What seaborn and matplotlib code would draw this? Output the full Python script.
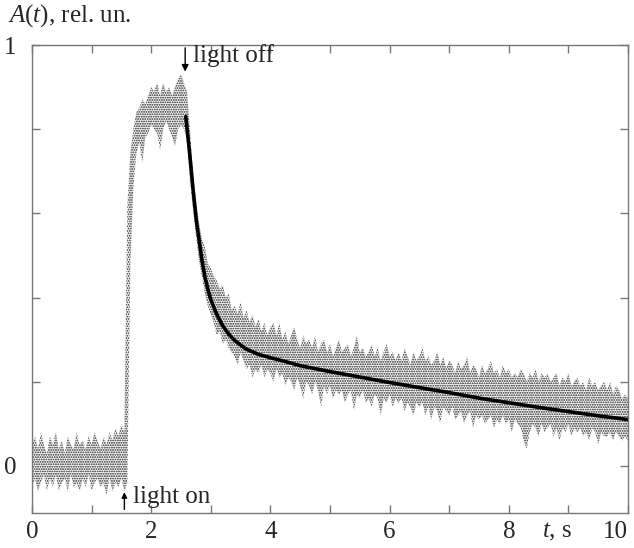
import numpy as np
import pandas as pd
import seaborn as sns
import matplotlib.pyplot as plt

BASE_HI = [0.05, 0.07, 0.04, 0.08, 0.05, 0.03, 0.07, 0.05, 0.08, 0.04,
           0.06, 0.03, 0.07, 0.05, 0.04, 0.08, 0.05, 0.06, 0.04, 0.07,
           0.05, 0.08, 0.06, 0.04, 0.07, 0.05, 0.08, 0.06, 0.09, 0.07,
           0.10, 0.08]
BASE_LO = [-0.05, -0.03, -0.06, -0.04, -0.02, -0.06, -0.03, -0.05, -0.02, -0.06,
           -0.04, -0.03, -0.06, -0.02, -0.05, -0.04, -0.06, -0.03, -0.05, -0.02,
           -0.06, -0.04, -0.03, -0.05, -0.04, -0.07, -0.03, -0.06, -0.04, -0.05,
           -0.03, -0.06]
PLATEAU_HI = [0.62, 0.74, 0.80, 0.84, 0.85, 0.87, 0.86, 0.88, 0.90, 0.89,
              0.91, 0.88, 0.91, 0.89, 0.90, 0.88, 0.90, 0.92, 0.93, 0.91, 0.89]
PLATEAU_LO = [-0.04, 0.48, 0.66, 0.74, 0.77, 0.72, 0.78, 0.79, 0.81, 0.80,
              0.79, 0.75, 0.80, 0.82, 0.80, 0.78, 0.76, 0.80, 0.81, 0.80, 0.78]
DECAY_HI = [0.80, 0.70, 0.63, 0.58, 0.54, 0.52, 0.48, 0.47, 0.45, 0.44,
            0.42, 0.43, 0.40, 0.41, 0.37, 0.38, 0.36, 0.39, 0.35, 0.37,
            0.34, 0.36, 0.33, 0.35, 0.32, 0.34, 0.31, 0.33, 0.34, 0.31,
            0.34, 0.30, 0.32, 0.29, 0.31, 0.33, 0.30, 0.28, 0.31, 0.29,
            0.30, 0.28, 0.31, 0.27, 0.29, 0.30, 0.27, 0.29, 0.26, 0.28,
            0.30, 0.27, 0.28, 0.29, 0.26, 0.28, 0.31, 0.27, 0.28, 0.26,
            0.27, 0.29, 0.26, 0.28, 0.25, 0.27, 0.29, 0.26, 0.27, 0.25,
            0.27, 0.25, 0.28, 0.26, 0.24, 0.27, 0.25, 0.26, 0.28, 0.25,
            0.26, 0.24, 0.25, 0.27, 0.24, 0.26, 0.23, 0.25, 0.24, 0.22,
            0.25, 0.23, 0.24, 0.26, 0.22, 0.24, 0.23, 0.21, 0.24, 0.22,
            0.23, 0.25, 0.22, 0.23, 0.21, 0.24, 0.22, 0.23, 0.21, 0.22,
            0.21, 0.23, 0.22, 0.20, 0.22, 0.21, 0.23, 0.20, 0.22, 0.21,
            0.22, 0.20, 0.21, 0.22, 0.19, 0.21, 0.20, 0.22, 0.19, 0.20,
            0.21, 0.19, 0.20, 0.18, 0.21, 0.19, 0.20, 0.18, 0.19, 0.20,
            0.18, 0.20, 0.17, 0.19, 0.18, 0.16, 0.17, 0.16]
DECAY_LO = [0.68, 0.61, 0.55, 0.49, 0.45, 0.41, 0.38, 0.36, 0.34, 0.31,
            0.32, 0.29, 0.30, 0.28, 0.27, 0.26, 0.24, 0.27, 0.25, 0.23,
            0.24, 0.21, 0.23, 0.22, 0.24, 0.21, 0.23, 0.22, 0.20, 0.23,
            0.21, 0.22, 0.19, 0.21, 0.20, 0.18, 0.21, 0.19, 0.16, 0.20,
            0.19, 0.17, 0.20, 0.18, 0.14, 0.19, 0.17, 0.19, 0.16, 0.18,
            0.17, 0.18, 0.15, 0.17, 0.18, 0.13, 0.17, 0.16, 0.18, 0.15,
            0.16, 0.14, 0.17, 0.16, 0.12, 0.16, 0.15, 0.17, 0.14, 0.16,
            0.15, 0.16, 0.13, 0.15, 0.14, 0.12, 0.15, 0.14, 0.15, 0.12,
            0.14, 0.11, 0.14, 0.13, 0.10, 0.14, 0.13, 0.12, 0.14, 0.11,
            0.12, 0.13, 0.10, 0.12, 0.13, 0.09, 0.12, 0.11, 0.12, 0.10,
            0.11, 0.12, 0.09, 0.11, 0.10, 0.12, 0.10, 0.11, 0.08, 0.11,
            0.10, 0.09, 0.06, 0.04, 0.08, 0.10, 0.09, 0.07, 0.10, 0.08,
            0.09, 0.10, 0.07, 0.09, 0.06, 0.09, 0.08, 0.10, 0.07, 0.09,
            0.08, 0.09, 0.07, 0.08, 0.06, 0.09, 0.08, 0.05, 0.08, 0.07,
            0.07, 0.08, 0.06, 0.08, 0.07, 0.06, 0.07, 0.06]

# fitted decay curve
FIT_T = [2.58, 2.64, 2.70, 2.76, 2.80, 2.85, 2.90, 2.95, 3.00, 3.10,
         3.20, 3.30, 3.40, 3.50, 3.60, 3.80, 4.00, 4.25, 4.50, 5.00,
         5.50, 6.00, 6.50, 7.00, 7.50, 8.00, 8.50, 9.00, 9.50, 10.00]
FIT_A = [0.83, 0.75, 0.66, 0.58, 0.54, 0.49, 0.45, 0.42, 0.395, 0.36,
         0.333, 0.313, 0.298, 0.287, 0.277, 0.265, 0.257, 0.248, 0.238, 0.224,
         0.211, 0.198, 0.186, 0.174, 0.161, 0.150, 0.139, 0.129, 0.119, 0.110]

hi = BASE_HI + PLATEAU_HI + DECAY_HI
lo = BASE_LO + PLATEAU_LO + DECAY_LO
t = np.linspace(0, 10, len(hi))

sns.set_style("ticks")
plt.rcParams["font.family"] = ["Liberation Serif", "DejaVu Serif"]
plt.rcParams["mathtext.fontset"] = "custom"
plt.rcParams["mathtext.rm"] = "Liberation Serif"
plt.rcParams["mathtext.it"] = "Liberation Serif:italic"
plt.rcParams["hatch.linewidth"] = 0.9

fig = plt.figure(figsize=(6.34, 5.48), dpi=100)
ax = fig.add_axes([32 / 634, 1 - 513 / 548, 596 / 634, 468 / 548])

ax.fill_between(t, lo, hi, facecolor="white", edgecolor="#1a1a1a",
                hatch=".......", linewidth=0)
fit = pd.DataFrame({"t": FIT_T, "A": FIT_A})
sns.lineplot(data=fit, x="t", y="A", ax=ax, color="black", linewidth=2.6)

ax.set_xlim(0, 10)
ax.set_ylim(-0.112, 1.0)
ax.set_xticks(range(0, 11))
ax.set_xticklabels([str(i) if i % 2 == 0 else "" for i in range(11)])
ax.get_xticklabels()[-1].set_horizontalalignment("right")
ax.set_yticks([0, 0.2, 0.4, 0.6, 0.8, 1.0])
ax.set_yticklabels(["0", "", "", "", "", "1"])
ax.tick_params(direction="in", length=6, width=1, color="#777777",
               top=True, right=True, labelsize=18)
ax.tick_params(axis="y", pad=11)
ax.tick_params(axis="x", pad=6)
for s in ax.spines.values():
    s.set_color("#777777")
    s.set_linewidth(1.0)
ax.set_xlabel("")
ax.set_ylabel("")

ax.annotate("", xy=(2.57, 0.93), xytext=(2.57, 1.0),
            arrowprops=dict(arrowstyle="-|>", color="black", lw=1, mutation_scale=10))
ax.text(2.7, 0.975, "light off", fontsize=18, va="center", ha="left")
ax.annotate("", xy=(1.55, -0.056), xytext=(1.55, -0.11),
            arrowprops=dict(arrowstyle="-|>", color="black", lw=1, mutation_scale=8))
ax.text(1.7, -0.075, "light on", fontsize=18, va="center", ha="left")

fig.text(8 / 634, 1 - 16 / 548, r"$A(t)$, rel. un.", fontsize=18, va="center", ha="left")
fig.text(557 / 634, 1 - 532 / 548, r"$t$, s", fontsize=18, va="center", ha="center")

fig.savefig("out.png", dpi=100)
